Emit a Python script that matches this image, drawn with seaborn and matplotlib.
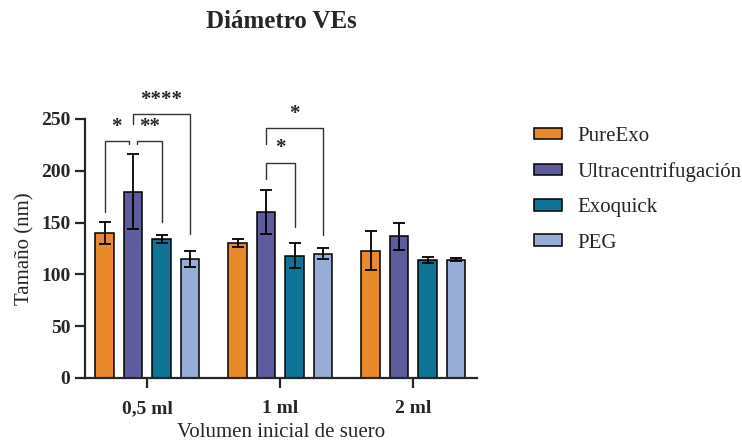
import numpy as np
import pandas as pd
import seaborn as sns
import matplotlib.pyplot as plt

# data
volumes = ['0,5 ml', '1 ml', '2 ml']
methods = ['PureExo', 'Ultracentrifugación', 'Exoquick', 'PEG']
pureexo = [140, 130, 123]
ultra = [180, 160, 137]
exoquick = [134, 118, 114]
peg = [115, 120, 114]
pureexo_sd = [11, 4, 18.5]
ultra_sd = [36, 21, 13]
exoquick_sd = [4, 12, 3]
peg_sd = [8, 5.5, 1.5]
colors = ['#E8892B', '#5E5C9D', '#0E7394', '#97ADD5']

# significance brackets: group, bar a, bar b, height, leg a, leg b, label
brackets = [
    (0, 0, 1, 229, 160, 226, '*'),
    (0, 1, 2, 229, 226, 151, '**'),
    (0, 1, 3, 255, 245, 139, '****'),
    (1, 1, 2, 208, 192, 146, '*'),
    (1, 1, 3, 241, 226, 138, '*'),
]

means = [pureexo, ultra, exoquick, peg]
sds = [pureexo_sd, ultra_sd, exoquick_sd, peg_sd]
rows = []
for m, vals, errs in zip(methods, means, sds):
    for v, val, err in zip(volumes, vals, errs):
        rows.append({'Volumen': v, 'Metodo': m, 'Tamano': val, 'sd': err})
df = pd.DataFrame(rows)

sns.set_style('ticks')
plt.rcParams['font.family'] = ['Liberation Serif', 'DejaVu Serif']

fig = plt.figure(figsize=(7.42, 4.45), dpi=100)
ax = fig.add_axes([0.1146, 0.1506, 0.528, 0.582])

sns.barplot(data=df, x='Volumen', y='Tamano', hue='Metodo', order=volumes,
            hue_order=methods, palette=colors, width=0.857, gap=0.35,
            edgecolor='black', linewidth=1.1, errorbar=None, ax=ax,
            saturation=1)

bar_conts = list(ax.containers)

# bar centres for error bars and brackets
centres = {}
for hi, cont in enumerate(bar_conts):
    for gi, patch in enumerate(cont.patches):
        centres[(gi, hi)] = patch.get_x() + patch.get_width() / 2
        ax.errorbar(centres[(gi, hi)], means[hi][gi], yerr=sds[hi][gi],
                    color='black', lw=1.3, capsize=4.5, capthick=1.3)

for g, a, b, h, la, lb, lab in brackets:
    xa, xb = centres[(g, a)], centres[(g, b)]
    if lab == '*' and g == 0:
        xb -= 0.03
    if lab == '**':
        xa += 0.03
    ax.plot([xa, xa, xb, xb], [la, h, h, lb], color='#333333', lw=1,
            clip_on=False)
    ax.text((xa + xb) / 2, h + 4, lab, ha='center', va='bottom',
            fontsize=15, fontweight='bold', clip_on=False)

ax.set_xlim(-0.468, 2.477)
ax.set_ylim(0, 250)
ax.set_yticks([0, 50, 100, 150, 200, 250])
sns.despine(ax=ax)
for s in ['left', 'bottom']:
    ax.spines[s].set_linewidth(1.6)
ax.tick_params(axis='both', width=1.6, length=7, labelsize=14)
ax.tick_params(axis='x', pad=9)
for t in ax.get_xticklabels() + ax.get_yticklabels():
    t.set_fontweight('bold')

ax.set_xlabel('Volumen inicial de suero', fontsize=15, labelpad=4)
ax.set_ylabel('Tamaño (nm)', fontsize=15, labelpad=5)
fig.text(0.379, 1 - 22 / 445, 'Diámetro VEs', fontsize=18,
         fontweight='bold', ha='center', va='center')

ax.get_legend().remove()
handles = [c.patches[0] for c in bar_conts]
fig.legend(handles, methods, loc='upper left', bbox_to_anchor=(0.695, 0.757),
           frameon=False, fontsize=15, handlelength=1.3, handleheight=0.48,
           labelspacing=0.78, handletextpad=0.75)

fig.savefig('out.png', dpi=100)
